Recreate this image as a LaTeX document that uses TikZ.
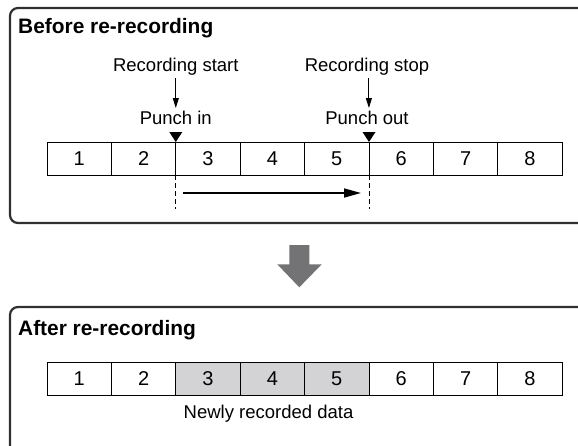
\documentclass[tikz,border=0pt]{standalone}
\usepackage{fontspec}
\setmainfont{Liberation Sans}
\usetikzlibrary{arrows.meta}
\definecolor{boxline}{HTML}{303030}
\definecolor{newfill}{HTML}{D3D3D5}
\definecolor{bigarrow}{HTML}{737375}
\tikzset{
  frame/.style={draw=boxline, line width=2.2pt, rounded corners=8pt},
  cell/.style={draw=black, line width=0.9pt, minimum width=64.4pt, minimum height=33pt, inner sep=0pt, outer sep=0pt, font=\fontsize{20}{22}\selectfont},
  newcell/.style={cell, fill=newfill},
  label/.style={font=\fontsize{18.5}{20}\selectfont, inner sep=0pt, anchor=base},
  title/.style={font=\fontsize{20.9}{24}\selectfont\bfseries, inner sep=0pt, anchor=base west},
  smallarrow/.style={draw=black, line width=0.9pt, -{Triangle[length=10pt,width=6pt]}},
  guide/.style={draw=black, line width=0.9pt, dash pattern=on 5pt off 3pt},
  rangearrow/.style={draw=black, line width=1.6pt, -{Triangle[length=17pt,width=9pt]}},
  marker/.style={fill=black, draw=none}
}
\begin{document}
\begin{tikzpicture}[x=1pt,y=-1pt]
\useasboundingbox (0,0) rectangle (578,445);
\clip (0,0) rectangle (578,445);
% frames
\draw[frame] (10,8) rectangle (600,223);
\draw[frame] (10,307) rectangle (600,470);
% titles
\node[title] (t1) at (18,33) {Before re-recording};
\node[title] (t2) at (18,335) {After re-recording};
% top cells
\foreach \i in {1,...,8} {
  \node[cell] (a\i) at ({47+64.4*(\i-0.5)},158.5) {\i};
}
% bottom cells
\foreach \i in {1,2,6,7,8} {
  \node[cell] (b\i) at ({47+64.4*(\i-0.5)},379) {\i};
}
\foreach \i in {3,4,5} {
  \node[newcell] (b\i) at ({47+64.4*(\i-0.5)},379) {\i};
}
% labels
\node[label] (rs) at (175.8,71) {Recording start};
\node[label] (pi) at (175.8,124) {Punch in};
\node[label] (rst) at (367,71) {Recording stop};
\node[label] (po) at (367,124) {Punch out};
\draw[smallarrow] (175.8,78) -- (175.8,108);
\draw[smallarrow] (368.9,78) -- (368.9,108);
% markers
\fill[marker] (a2.north east) ++(-6.5,-10) -- ++(13,0) -- ++(-6.5,10) -- cycle;
\fill[marker] (a5.north east) ++(-6.5,-10) -- ++(13,0) -- ++(-6.5,10) -- cycle;
% guides
\draw[guide] (a2.south east) -- ++(0,34) coordinate (g1);
\draw[guide] (a5.south east) -- ++(0,34) coordinate (g2);
\draw[rangearrow] (183,193) -- (361,193);
% big arrow
\fill[bigarrow] (289.3,245) -- (309.3,245) -- (309.3,264.3) -- (321.7,264.3) -- (299.3,287.3) -- (277.3,264.3) -- (289.3,264.3) -- cycle;
% new data label
\node[label] (nd) at (268.5,418) {Newly recorded data};
\end{tikzpicture}
\end{document}
